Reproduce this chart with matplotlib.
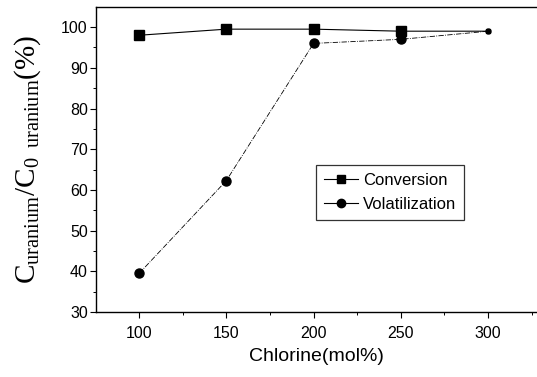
import matplotlib
matplotlib.use("Agg")
import matplotlib.pyplot as plt
from matplotlib.ticker import MultipleLocator
from matplotlib.lines import Line2D

chlorine = [100, 150, 200, 250, 300]
conversion = [98.0, 99.5, 99.5, 99.0, 99.0]
volatilization = [39.5, 62.3, 96.0, 97.0, 99.0]
xticks = [100, 150, 200, 250, 300]
yticks = [30, 40, 50, 60, 70, 80, 90, 100]

plt.rcParams['font.family'] = 'Liberation Sans'
plt.rcParams['mathtext.fontset'] = 'custom'
plt.rcParams['mathtext.rm'] = 'Liberation Serif'
plt.rcParams['mathtext.it'] = 'Liberation Serif:italic'

fig = plt.figure(figsize=(5.37, 3.77), dpi=100)
ax = fig.add_axes([0.179, 0.172, 0.821, 0.809])

sizes = [6.5, 6.5, 6.5, 6.5, 3.5]
ax.plot(chlorine, conversion, '-', color='black', lw=0.8)
ax.plot(chlorine, volatilization, '-.', color='black', lw=0.6)
for x, c, v, s in zip(chlorine, conversion, volatilization, sizes):
    ax.plot([x], [c], 's', color='black', ms=s)
    ax.plot([x], [v], 'o', color='black', ms=s)

handles = [Line2D([], [], color='black', lw=0.8, marker='s', ms=6),
           Line2D([], [], color='black', lw=0.8, marker='o', ms=6)]
leg = ax.legend(handles, ['Conversion', 'Volatilization'], loc='upper left',
                bbox_to_anchor=(0.48, 0.51), frameon=True, fancybox=False,
                edgecolor='black', fontsize=12, handlelength=2.0,
                handletextpad=0.3, borderpad=0.5, labelspacing=0.5)
leg.get_frame().set_linewidth(0.9)

ax.set_xlim(75.4, 328)
ax.set_ylim(30, 104.9)
ax.set_xticks(xticks)
ax.set_yticks(yticks)
ax.xaxis.set_minor_locator(MultipleLocator(25))
ax.yaxis.set_minor_locator(MultipleLocator(5))
ax.tick_params(axis='both', which='major', direction='out', length=4, width=0.8,
               labelsize=11.5, pad=2)
ax.tick_params(axis='both', which='minor', direction='out', length=2, width=0.7)
ax.tick_params(axis='x', pad=6)
for side in ['left', 'bottom', 'top']:
    ax.spines[side].set_linewidth(1.0)
ax.spines['right'].set_visible(False)

ax.set_xlabel('Chlorine(mol%)', fontsize=14, labelpad=5)
ax.set_ylabel(r'$\mathrm{C_{uranium}/C_{0\ \ uranium}(\%)}$', fontsize=21, labelpad=13)

fig.savefig('out.png', dpi=100)
